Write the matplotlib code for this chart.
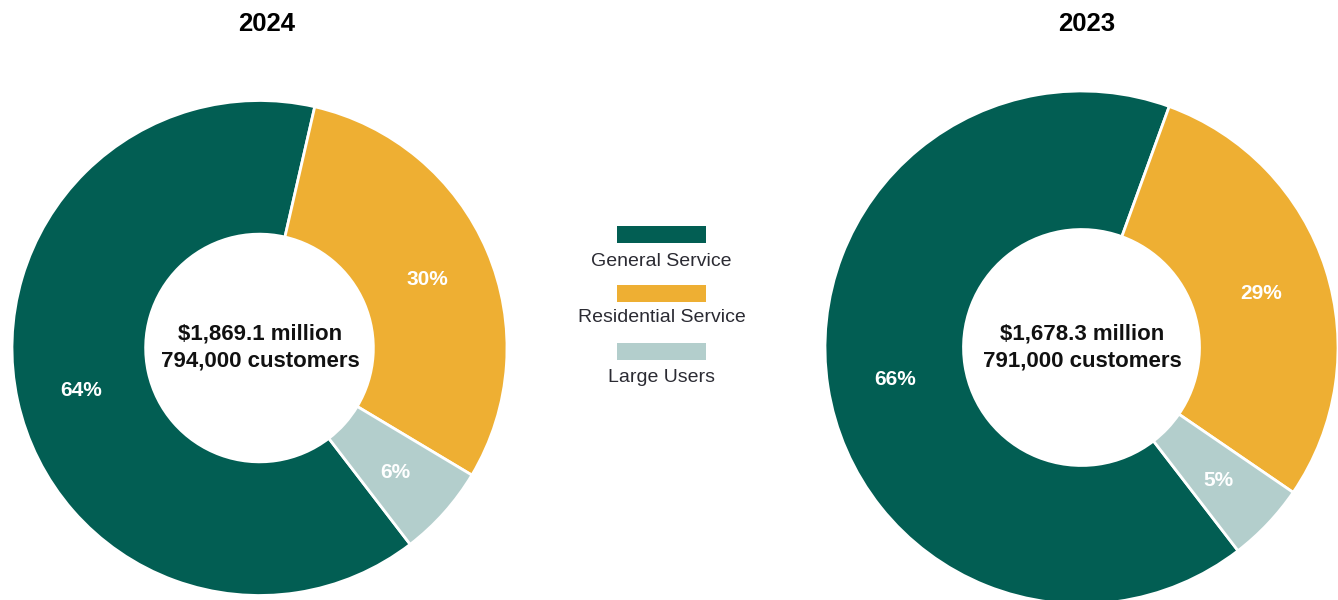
import matplotlib
matplotlib.use("Agg")
import matplotlib.pyplot as plt
from matplotlib.patches import Rectangle

plt.rcParams['font.family'] = ['Liberation Sans', 'DejaVu Sans']

# ---- data ----
categories = ["General Service", "Residential Service", "Large Users"]
colors = ["#025E53", "#EEAF33", "#B3CECC"]
years = ["2024", "2023"]
shares_2024 = [64, 30, 6]
shares_2023 = [66, 29, 5]
revenue_labels = ["$1,869.1 million", "$1,678.3 million"]
customer_labels = ["794,000 customers", "791,000 customers"]

W, H = 1338, 600
fig = plt.figure(figsize=(W / 100, H / 100), dpi=100)
ax = fig.add_axes([0, 0, 1, 1])

def py(y):
    return H - y

donuts = [
    dict(values=shares_2024, cx=259.5, cy=348, r=247.5, start=-52.5, title_x=267,
         rev=revenue_labels[0], cust=customer_labels[0], year=years[0]),
    dict(values=shares_2023, cx=1081.5, cy=347.5, r=256.5, start=-52.4, title_x=1087,
         rev=revenue_labels[1], cust=customer_labels[1], year=years[1]),
]

for d in donuts:
    vals = d["values"]
    wedges, texts, autotexts = ax.pie(
        vals, colors=colors, center=(d["cx"], py(d["cy"])), radius=d["r"],
        startangle=d["start"], counterclock=False,
        autopct=lambda p: f"{p:.0f}%", pctdistance=0.737,
        wedgeprops=dict(width=d["r"] * 0.54, edgecolor="white", linewidth=2),
        textprops=dict(color="white", fontsize=15, fontweight="bold"),
        frame=True)
    for t in autotexts:
        x, y = t.get_position()
        t.set_position((x, y - 3.5))
    ax.text(d["title_x"], py(24), d["year"], ha="center", va="center",
            fontsize=18.5, fontweight="bold", color="black")
    ax.text(d["cx"] + 1, py(334), d["rev"], ha="center", va="center",
            fontsize=16, fontweight="bold", color="#111111")
    ax.text(d["cx"] + 1, py(360.5), d["cust"], ha="center", va="center",
            fontsize=16, fontweight="bold", color="#111111")

ax.set_xlim(0, W)
ax.set_ylim(0, H)
ax.set_aspect('equal')
ax.axis('off')

# ---- legend (centered column) ----
leg_rect_top = [226, 285, 343]
leg_text_y = [261, 318, 377]
for cat, col, rt, ty in zip(categories, colors, leg_rect_top, leg_text_y):
    ax.add_patch(Rectangle((617, py(rt + 17)), 89, 17, facecolor=col, edgecolor="none"))
    ax.text(661.5, py(ty), cat, ha="center", va="center", fontsize=14, color="#2b2b33")

fig.savefig("out.png", dpi=100)
